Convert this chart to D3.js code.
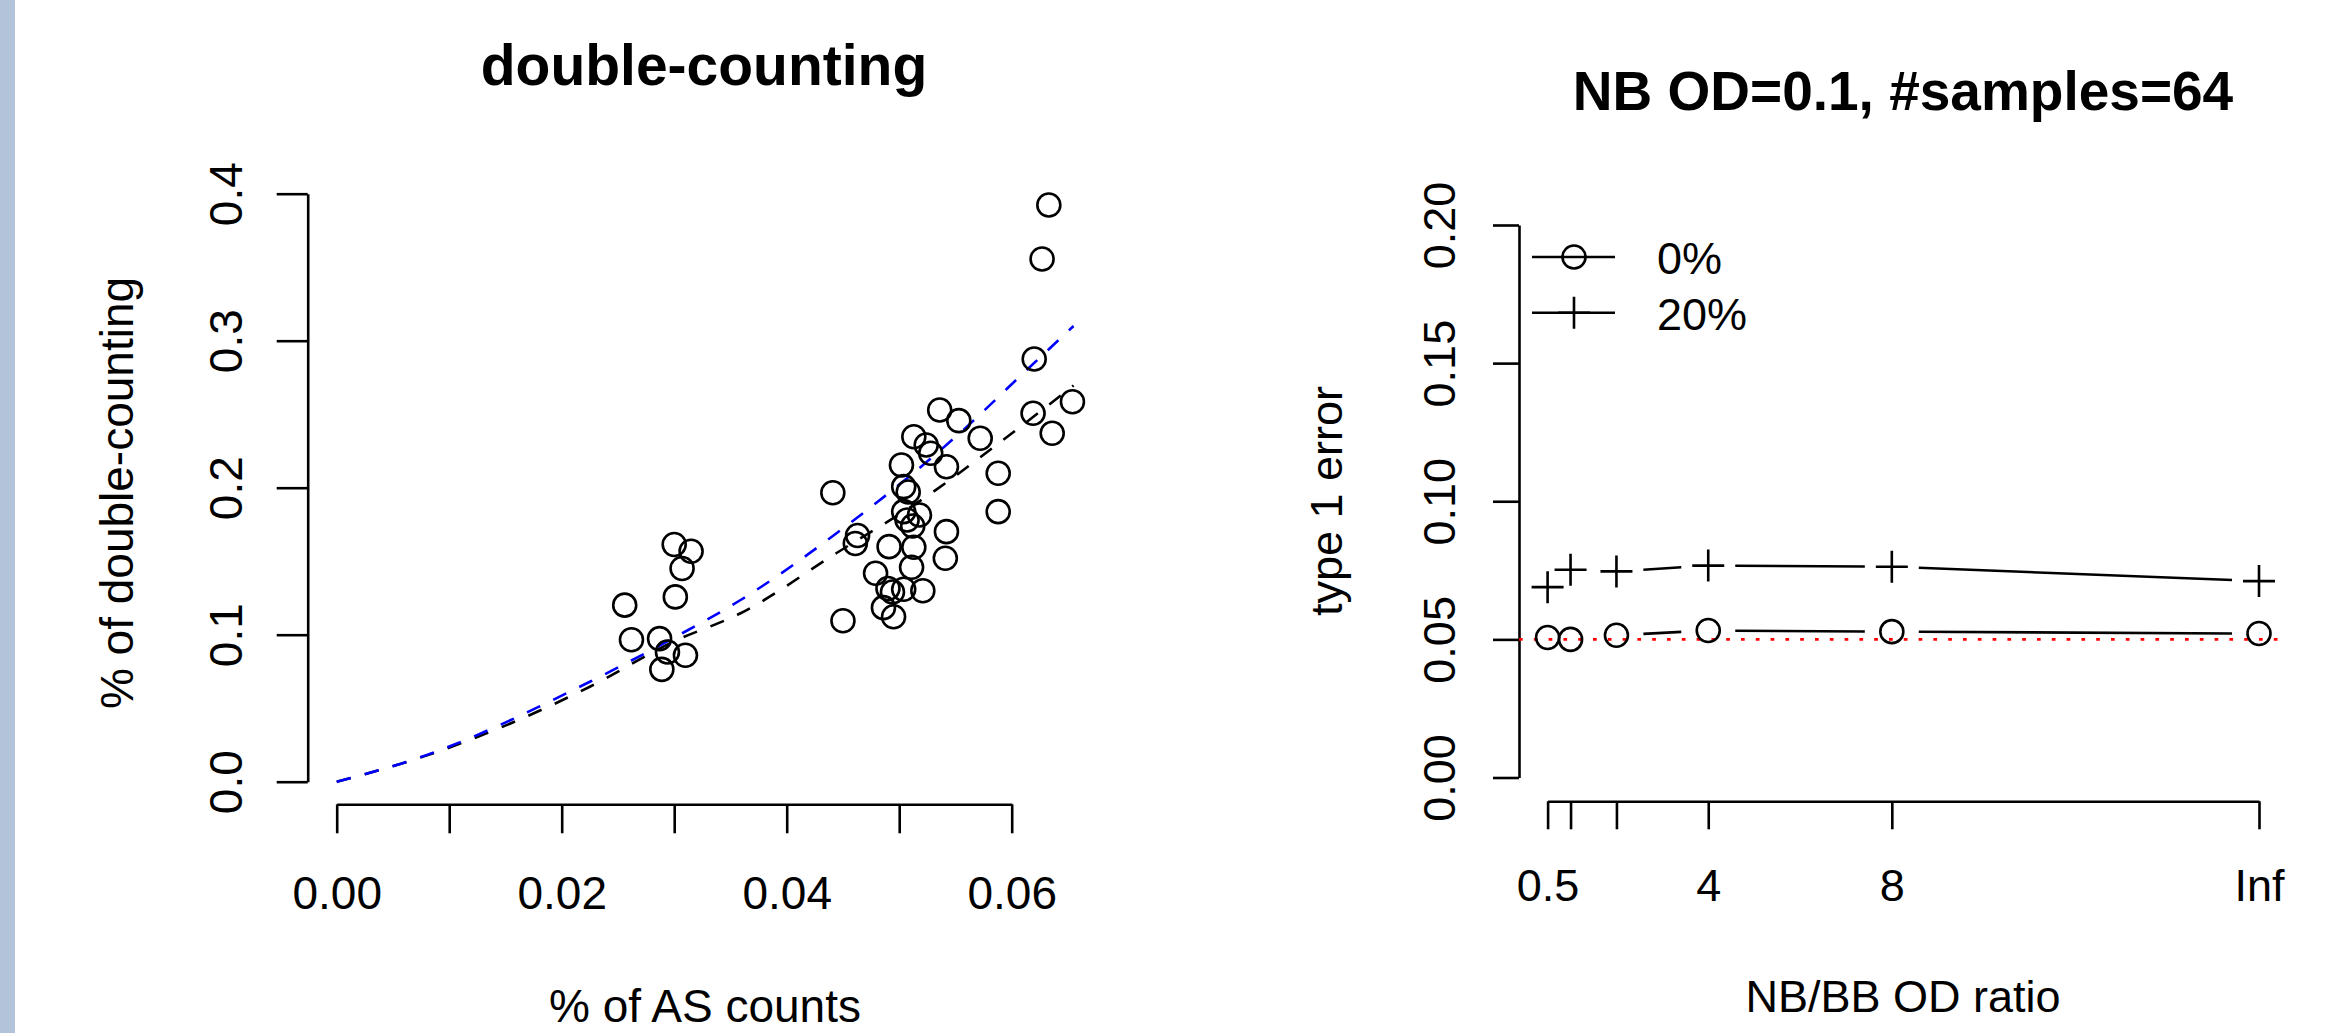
<!DOCTYPE html>
<html>
<head>
<meta charset="utf-8">
<script src="https://cdn.jsdelivr.net/npm/d3@7"></script>
<style>
  body { margin: 0; background: #fff; }
  svg text { font-family: "Liberation Sans", Arial, Helvetica, sans-serif; fill: #000; }
</style>
</head>
<body>
<div id="chart"></div>
<script>
// ---- left panel data: % of AS counts vs % of double-counting ----
const asCounts = [
  0.0300, 0.0315, 0.0307, 0.0301, 0.0256, 0.0262, 0.0287, 0.0294, 0.0310, 0.0289,
  0.0441, 0.0450, 0.0463, 0.0461, 0.0479, 0.0486, 0.0495, 0.0490, 0.0494, 0.0504,
  0.0521, 0.0511, 0.0491, 0.0513, 0.0504, 0.0518, 0.0507, 0.0512, 0.0504, 0.0508,
  0.0502, 0.0513, 0.0524, 0.0528, 0.0536, 0.0553, 0.0572, 0.0542, 0.0542, 0.0541,
  0.0588, 0.0588, 0.0619, 0.0636, 0.0654, 0.0620, 0.0627, 0.0633
];
const doubleCounting = [
  0.1614, 0.1568, 0.1450, 0.1257, 0.1201, 0.0966, 0.0973, 0.0882, 0.0860, 0.0764,
  0.1966, 0.1095, 0.1675, 0.1620, 0.1418, 0.1184, 0.1122, 0.1314, 0.1290, 0.1309,
  0.1299, 0.1459, 0.1599, 0.1595, 0.1837, 0.1814, 0.1780, 0.1739, 0.2007, 0.1971,
  0.2154, 0.2347, 0.2290, 0.2234, 0.2529, 0.2456, 0.2336, 0.2143, 0.1701, 0.1520,
  0.2098, 0.1837, 0.2506, 0.2370, 0.2585, 0.2876, 0.3556, 0.3923
];
// fitted curves
const fitBlackX = [0, 0.0068, 0.0225, 0.0299, 0.0359, 0.0444, 0.0524, 0.0604, 0.0655];
const fitBlackY = [0, 0.0148, 0.0646, 0.0952, 0.1146, 0.1554, 0.1939, 0.2393, 0.2695];
const fitBlueX  = [0, 0.0068, 0.0225, 0.0299, 0.0359, 0.0456, 0.0507, 0.0557, 0.0607, 0.0655];
const fitBlueY  = [0, 0.0150, 0.0680, 0.0976, 0.1236, 0.1758, 0.2064, 0.2393, 0.2755, 0.3100];
const leftXTicks = [0, 0.01, 0.02, 0.03, 0.04, 0.05, 0.06];
const leftXLabels = ["0.00", "", "0.02", "", "0.04", "", "0.06"];
const leftYTicks = [0, 0.1, 0.2, 0.3, 0.4];
const leftYLabels = ["0.0", "0.1", "0.2", "0.3", "0.4"];

// ---- right panel data: type 1 error vs NB/BB OD ratio ----
const odRatio = [0.5, 1, 2, 4, 8, 16];          // Inf drawn at 16
const odRatioLabels = ["0.5", "", "", "4", "8", "Inf"];
const err0 = [0.0507, 0.0500, 0.0515, 0.0532, 0.0528, 0.0521];
const err20 = [0.0689, 0.0752, 0.0746, 0.0767, 0.0763, 0.0711];
const rightYTicks = [0, 0.05, 0.10, 0.15, 0.20];
const rightYLabels = ["0.00", "0.05", "0.10", "0.15", "0.20"];
const legendLabels = ["0%", "20%"];
const nominal = 0.05;

const W = 2351, H = 1033;
const svg = d3.select("#chart").append("svg").attr("width", W).attr("height", H);
svg.append("rect").attr("width", W).attr("height", H).attr("fill", "#fff");
svg.append("rect").attr("width", 15).attr("height", H).attr("fill", "#b3c4da");

const LW = 2.6;
const dash = "14.5,14.5";

// ================= left panel =================
const xL = d3.scaleLinear().domain([0, 0.06]).range([336.7, 1011.7]);
const yL = d3.scaleLinear().domain([0, 0.4]).range([781.7, 193.7]);
const left = svg.append("g");

const xAxL = left.append("g").attr("transform", "translate(0,804.3)")
  .call(d3.axisBottom(xL).tickValues(leftXTicks).tickSize(29).tickSizeOuter(0)
    .tickFormat((d, i) => leftXLabels[i]));
const yAxL = left.append("g").attr("transform", "translate(307.7,0)")
  .call(d3.axisLeft(yL).tickValues(leftYTicks).tickSize(31).tickSizeOuter(0)
    .tickFormat((d, i) => leftYLabels[i]));

function styleAxis(ax, fs) {
  ax.selectAll("path, line").attr("stroke", "#000").attr("stroke-width", LW);
  ax.selectAll("text").attr("font-size", fs).attr("fill", "#000");
}
styleAxis(xAxL, 46);
styleAxis(yAxL, 46);
xAxL.selectAll("text").attr("y", 104.7).attr("dy", 0);
yAxL.selectAll("text").attr("x", 0).attr("dy", 0).attr("text-anchor", "middle")
  .attr("transform", "translate(-66,0) rotate(-90)");

const lineL = d3.line().x(d => xL(d[0])).y(d => yL(d[1])).curve(d3.curveMonotoneX);
left.append("path").datum(d3.zip(fitBlackX, fitBlackY)).attr("d", lineL)
  .attr("fill", "none").attr("stroke", "#000").attr("stroke-width", LW).attr("stroke-dasharray", dash);
left.append("path").datum(d3.zip(fitBlueX, fitBlueY)).attr("d", lineL)
  .attr("fill", "none").attr("stroke", "#0000ff").attr("stroke-width", LW).attr("stroke-dasharray", dash);

left.selectAll(".pt").data(d3.zip(asCounts, doubleCounting)).join("circle")
  .attr("class", "pt")
  .attr("cx", d => xL(d[0])).attr("cy", d => yL(d[1])).attr("r", 11.5)
  .attr("fill", "none").attr("stroke", "#000").attr("stroke-width", LW);

left.append("text").attr("x", 704).attr("y", 85).attr("text-anchor", "middle")
  .attr("font-size", 57).attr("font-weight", "bold").text("double-counting");
left.append("text").attr("x", 705).attr("y", 1022).attr("text-anchor", "middle")
  .attr("font-size", 46).text("% of AS counts");
left.append("text").attr("transform", "translate(133,493) rotate(-90)").attr("text-anchor", "middle")
  .attr("font-size", 46).text("% of double-counting");

// ================= right panel =================
const xR = d3.scaleLinear().domain([0.5, 16]).range([1547.6, 2259]);
const yR = d3.scaleLinear().domain([0, 0.2]).range([777.5, 225]);
const right = svg.append("g");

const xAxR = right.append("g").attr("transform", "translate(0,801.3)")
  .call(d3.axisBottom(xR).tickValues(odRatio).tickSize(28).tickSizeOuter(0)
    .tickFormat((d, i) => odRatioLabels[i]));
const yAxR = right.append("g").attr("transform", "translate(1519,0)")
  .call(d3.axisLeft(yR).tickValues(rightYTicks).tickSize(26).tickSizeOuter(0)
    .tickFormat((d, i) => rightYLabels[i]));
styleAxis(xAxR, 45);
styleAxis(yAxR, 45);
xAxR.selectAll("text").attr("y", 100).attr("dy", 0);
yAxR.selectAll("text").attr("x", 0).attr("dy", 0).attr("text-anchor", "middle")
  .attr("transform", "translate(-64,0) rotate(-90)");

// nominal level
right.append("line").attr("x1", 1519).attr("x2", 2287)
  .attr("y1", yR(nominal)).attr("y2", yR(nominal))
  .attr("stroke", "#ff0000").attr("stroke-width", LW).attr("stroke-dasharray", "3.7,11.1");

// type "b" lines: segments with gaps around points
const gap = 27;
function drawB(vals) {
  const pts = odRatio.map((v, i) => [xR(v), yR(vals[i])]);
  for (let i = 0; i < pts.length - 1; i++) {
    const [x0, y0] = pts[i], [x1, y1] = pts[i + 1];
    const len = Math.hypot(x1 - x0, y1 - y0);
    if (len <= 2 * gap) continue;
    const ux = (x1 - x0) / len, uy = (y1 - y0) / len;
    right.append("line")
      .attr("x1", x0 + ux * gap).attr("y1", y0 + uy * gap)
      .attr("x2", x1 - ux * gap).attr("y2", y1 - uy * gap)
      .attr("stroke", "#000").attr("stroke-width", LW);
  }
}
drawB(err0);
drawB(err20);

function circleMark(g, x, y) {
  g.append("circle").attr("cx", x).attr("cy", y).attr("r", 11.5)
    .attr("fill", "none").attr("stroke", "#000").attr("stroke-width", LW);
}
function plusMark(g, x, y) {
  const s = 16;
  g.append("path").attr("d", `M${x - s},${y}H${x + s}M${x},${y - s}V${y + s}`)
    .attr("stroke", "#000").attr("stroke-width", LW).attr("fill", "none");
}
odRatio.forEach((v, i) => circleMark(right, xR(v), yR(err0[i])));
odRatio.forEach((v, i) => plusMark(right, xR(v), yR(err20[i])));

// legend
const legY = [257, 312.7];
legendLabels.forEach((lab, i) => {
  right.append("line").attr("x1", 1532).attr("x2", 1615).attr("y1", legY[i]).attr("y2", legY[i])
    .attr("stroke", "#000").attr("stroke-width", LW);
  if (i === 0) circleMark(right, 1574, legY[i]); else plusMark(right, 1574, legY[i]);
  right.append("text").attr("x", 1657).attr("y", legY[i] + 17).attr("font-size", 45).text(lab);
});

right.append("text").attr("x", 1903).attr("y", 110).attr("text-anchor", "middle")
  .attr("font-size", 55).attr("font-weight", "bold").text("NB OD=0.1, #samples=64");
right.append("text").attr("x", 1903).attr("y", 1012).attr("text-anchor", "middle")
  .attr("font-size", 45).text("NB/BB OD ratio");
right.append("text").attr("transform", "translate(1342,501) rotate(-90)").attr("text-anchor", "middle")
  .attr("font-size", 45).text("type 1 error");
</script>
</body>
</html>
